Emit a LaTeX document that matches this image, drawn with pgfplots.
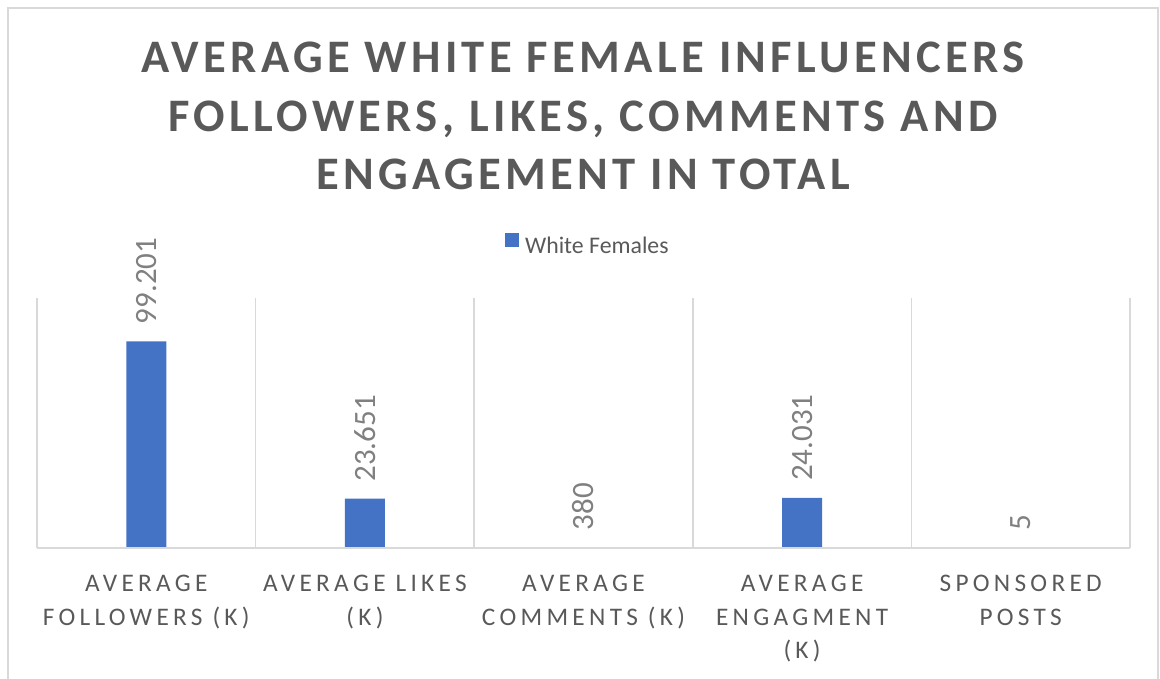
\documentclass[border=0pt]{standalone}
\usepackage{pgfplots}
\pgfplotsset{compat=1.18}
\usepackage{fontspec}
\setmainfont{Carlito}
\definecolor{barblue}{HTML}{4472C4}
\definecolor{txtgray}{HTML}{595959}
\definecolor{lblgray}{HTML}{808080}
\definecolor{gridgray}{HTML}{D9D9D9}
\pgfplotstableread{
x y lab
0 99201 99.201
1 23651 23.651
2 380 380
3 24031 24.031
4 5 5
}\datatable
\begin{document}
\begin{tikzpicture}[x=1pt,y=1pt]
\useasboundingbox (0,0) rectangle (1160,678);
\draw[gridgray, line width=1.5pt] (8,-5) -- (8,670) -- (1158,670) -- (1158,-5);
\begin{scope}[every node/.style={inner sep=0pt, text=txtgray, anchor=base, font=\fontsize{46.6}{50}\selectfont\bfseries\addfontfeature{LetterSpace=9.3}}]
\node at (583,605) {AVERAGE WHITE FEMALE INFLUENCERS};
\node at (583,546.5) {FOLLOWERS, LIKES, COMMENTS AND};
\node at (583,488) {ENGAGEMENT IN TOTAL};
\end{scope}
\begin{axis}[
  at={(37pt,130pt)}, anchor=south west,
  width=1093pt, height=250pt, scale only axis,
  xmin=-0.5, xmax=4.5, ymin=0, ymax=120000,
  ybar, bar width=40pt,
  axis line style={draw=none},
  ytick=\empty,
  xtick={0,1,2,3,4},
  xticklabels={{AVERAGE\\FOLLOWERS (K)},{AVERAGE LIKES\\(K)},{AVERAGE\\COMMENTS (K)},{AVERAGE\\ENGAGMENT\\(K)},{SPONSORED\\POSTS}},
  major tick length=0pt, minor tick length=0pt,
  minor xtick={-0.5,0.5,1.5,2.5,3.5,4.5},
  xminorgrids=true,
  minor x grid style={gridgray, line width=1.5pt},
  xticklabel style={font=\fontsize{25.3}{33.5}\selectfont\addfontfeature{LetterSpace=17}, text=txtgray, align=center, anchor=north, inner sep=0pt, yshift=-27pt},
  legend style={at={(0.504,1.212)}, anchor=center, draw=none, fill=none, font=\fontsize{23.8}{24}\selectfont, text=txtgray, /tikz/every odd column/.append style={column sep=4pt}},
  clip=false,
]
\addplot[fill=barblue, draw=none,
  nodes near coords, point meta=explicit symbolic,
  nodes near coords style={rotate=90, anchor=west, font=\fontsize{31}{31}\selectfont, text=lblgray, inner xsep=17pt, inner ysep=0pt},
  legend image code/.code={\fill[barblue] (0pt,-2pt) rectangle (14pt,12pt);}
] table[x=x, y=y, meta=lab] {\datatable};
\addlegendentry{White Females}
\draw[gridgray, line width=1.5pt] (axis cs:-0.5,0) -- (axis cs:4.5,0);
\end{axis}
\end{tikzpicture}
\end{document}
